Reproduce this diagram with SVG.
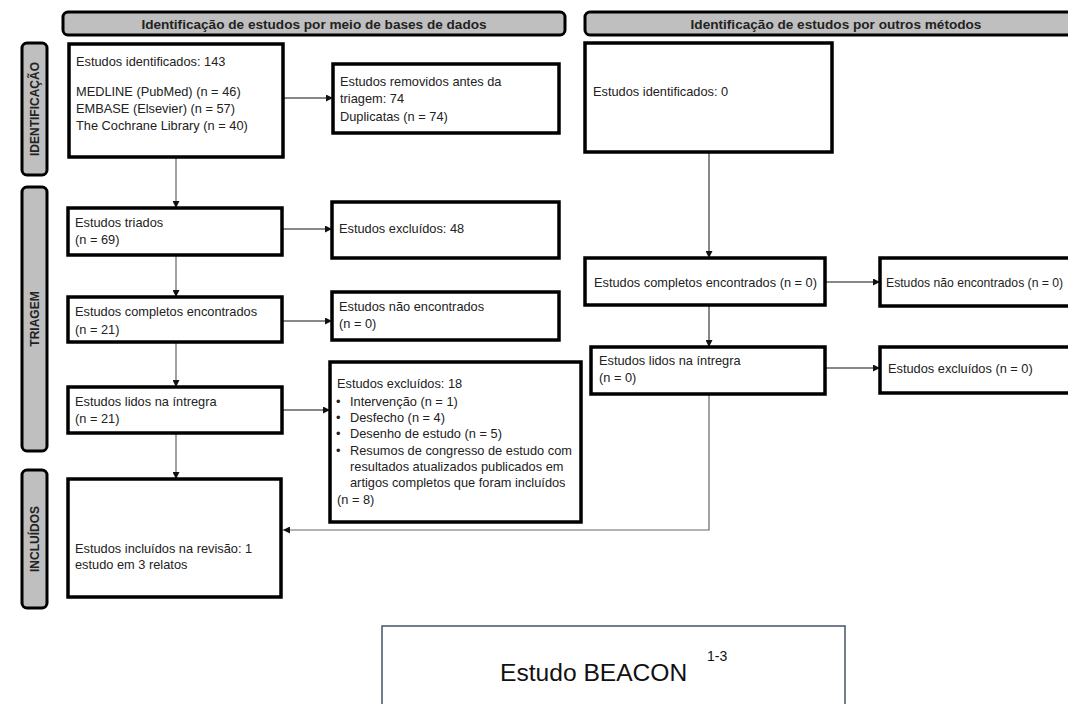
<svg xmlns="http://www.w3.org/2000/svg" width="1068" height="704" viewBox="0 0 1068 704">
<defs>
<marker id="ah" viewBox="0 0 10 10" refX="10" refY="5" markerWidth="7" markerHeight="7" markerUnits="userSpaceOnUse" orient="auto">
<path d="M0,0 L10,5 L0,10 z" fill="#111"/>
</marker>
<style>
.box{fill:#fff;stroke:#000;stroke-width:3.5}
.bar{fill:#bfbfbf;stroke:#000;stroke-width:3}
.t{font-family:"Liberation Sans",Arial,sans-serif;font-size:12.8px;fill:#222}
.h{font-family:"Liberation Sans",Arial,sans-serif;font-size:13.6px;font-weight:bold;fill:#222;text-anchor:middle}
.s{font-family:"Liberation Sans",Arial,sans-serif;font-size:12px;font-weight:bold;fill:#222;text-anchor:middle}
.c{fill:none;stroke:#111;stroke-width:1}
.g{fill:none;stroke:#666;stroke-width:1.2}
</style>
</defs>
<rect width="1068" height="704" fill="#fff"/>

<g id="header-db"><rect class="bar" x="63" y="12" width="502" height="23" rx="5"/><text class="h" x="314" y="28.5">Identificação de estudos por meio de bases de dados</text></g>
<g id="header-other"><rect class="bar" x="585" y="12" width="495" height="23" rx="5"/><text class="h" x="836" y="28.5">Identificação de estudos por outros métodos</text></g>

<g id="side-identificacao"><rect class="bar" x="22" y="43" width="25" height="132" rx="5"/><text class="s" transform="translate(39,109) rotate(-90)">IDENTIFICAÇÃO</text></g>
<g id="side-triagem"><rect class="bar" x="22" y="187" width="25" height="264" rx="5"/><text class="s" transform="translate(39,319) rotate(-90)">TRIAGEM</text></g>
<g id="side-incluidos"><rect class="bar" x="22" y="470" width="25" height="138" rx="5"/><text class="s" transform="translate(39,539) rotate(-90)">INCLUÍDOS</text></g>

<g id="connectors">
<line class="c" x1="283" y1="98" x2="333" y2="98" marker-end="url(#ah)"/>
<line class="g" x1="176" y1="157" x2="176" y2="208" marker-end="url(#ah)"/>
<line class="c" x1="282" y1="229" x2="332" y2="229" marker-end="url(#ah)"/>
<line class="g" x1="176" y1="255" x2="176" y2="297" marker-end="url(#ah)"/>
<line class="c" x1="282" y1="321" x2="332" y2="321" marker-end="url(#ah)"/>
<line class="g" x1="176" y1="342" x2="176" y2="387" marker-end="url(#ah)"/>
<line class="c" x1="282" y1="410" x2="330" y2="410" marker-end="url(#ah)"/>
<line class="g" x1="176" y1="433" x2="176" y2="479" marker-end="url(#ah)"/>
<line class="c" x1="709" y1="152" x2="709" y2="258" marker-end="url(#ah)"/>
<line class="c" x1="825" y1="282" x2="880" y2="282" marker-end="url(#ah)"/>
<line class="c" x1="709" y1="305" x2="709" y2="347" marker-end="url(#ah)"/>
<line class="c" x1="825" y1="368" x2="880" y2="368" marker-end="url(#ah)"/>
<polyline class="g" points="709,394 709,530 283,530" marker-end="url(#ah)"/>
</g>

<g id="n-identificados"><rect class="box" x="69" y="44" width="214" height="113"/>
<text class="t" x="76" y="66">Estudos identificados: 143</text>
<text class="t" x="76" y="96">MEDLINE (PubMed) (n = 46)</text>
<text class="t" x="76" y="113">EMBASE (Elsevier) (n = 57)</text>
<text class="t" x="76" y="130">The Cochrane Library (n = 40)</text></g>

<g id="n-removidos"><rect class="box" x="333" y="64" width="226" height="69"/>
<text class="t" x="340" y="86">Estudos removidos antes da</text>
<text class="t" x="340" y="103">triagem: 74</text>
<text class="t" x="340" y="121">Duplicatas (n = 74)</text></g>

<g id="n-triados"><rect class="box" x="68" y="208" width="214" height="47"/>
<text class="t" x="75" y="227">Estudos triados</text>
<text class="t" x="75" y="244">(n = 69)</text></g>

<g id="n-excluidos48"><rect class="box" x="332" y="202" width="227" height="56"/>
<text class="t" x="339" y="233">Estudos excluídos: 48</text></g>

<g id="n-completos"><rect class="box" x="68" y="297" width="214" height="45"/>
<text class="t" x="75" y="316">Estudos completos encontrados</text>
<text class="t" x="75" y="334">(n = 21)</text></g>

<g id="n-naoencontrados"><rect class="box" x="332" y="292" width="227" height="48"/>
<text class="t" x="339" y="311">Estudos não encontrados</text>
<text class="t" x="339" y="328">(n = 0)</text></g>

<g id="n-lidos"><rect class="box" x="68" y="387" width="214" height="46"/>
<text class="t" x="75" y="406">Estudos lidos na íntregra</text>
<text class="t" x="75" y="423">(n = 21)</text></g>

<g id="n-excluidos18"><rect class="box" x="330" y="362" width="251" height="160"/>
<text class="t" x="337" y="388">Estudos excluídos: 18</text>
<text class="t" x="336" y="406" font-size="9">•</text><text class="t" x="350" y="406">Intervenção (n = 1)</text>
<text class="t" x="336" y="422" font-size="9">•</text><text class="t" x="350" y="422">Desfecho (n = 4)</text>
<text class="t" x="336" y="438" font-size="9">•</text><text class="t" x="350" y="438">Desenho de estudo (n = 5)</text>
<text class="t" x="336" y="455" font-size="9">•</text><text class="t" x="350" y="455">Resumos de congresso de estudo com</text>
<text class="t" x="350" y="471">resultados atualizados publicados em</text>
<text class="t" x="350" y="487">artigos completos que foram incluídos</text>
<text class="t" x="337" y="504">(n = 8)</text></g>

<g id="n-incluidos"><rect class="box" x="68" y="479" width="213" height="118"/>
<text class="t" x="75" y="553">Estudos incluídos na revisão: 1</text>
<text class="t" x="75" y="569">estudo em 3 relatos</text></g>

<g id="n-outros-identificados"><rect class="box" x="585" y="43" width="247" height="109"/>
<text class="t" x="593" y="96">Estudos identificados: 0</text></g>

<g id="n-outros-completos"><rect class="box" x="585" y="258" width="240" height="47"/>
<text class="t" x="594" y="287">Estudos completos encontrados (n = 0)</text></g>

<g id="n-outros-naoencontrados"><rect class="box" x="880" y="258" width="200" height="48"/>
<text class="t" x="886" y="287" style="font-size:12.2px">Estudos não encontrados  (n = 0)</text></g>

<g id="n-outros-lidos"><rect class="box" x="591" y="347" width="234" height="47"/>
<text class="t" x="599" y="365">Estudos lidos na íntregra</text>
<text class="t" x="599" y="382">(n = 0)</text></g>

<g id="n-outros-excluidos"><rect class="box" x="880" y="347" width="200" height="46"/>
<text class="t" x="888" y="373">Estudos excluídos  (n = 0)</text></g>

<g id="n-beacon"><rect x="382" y="626" width="463" height="80" fill="#fff" stroke="#44546a" stroke-width="1.5"/>
<text x="500" y="681" font-family="'Liberation Sans',Arial,sans-serif" font-size="24.6" fill="#111">Estudo BEACON</text>
<text x="707" y="661" font-family="'Liberation Sans',Arial,sans-serif" font-size="14" fill="#111">1-3</text></g>
</svg>
